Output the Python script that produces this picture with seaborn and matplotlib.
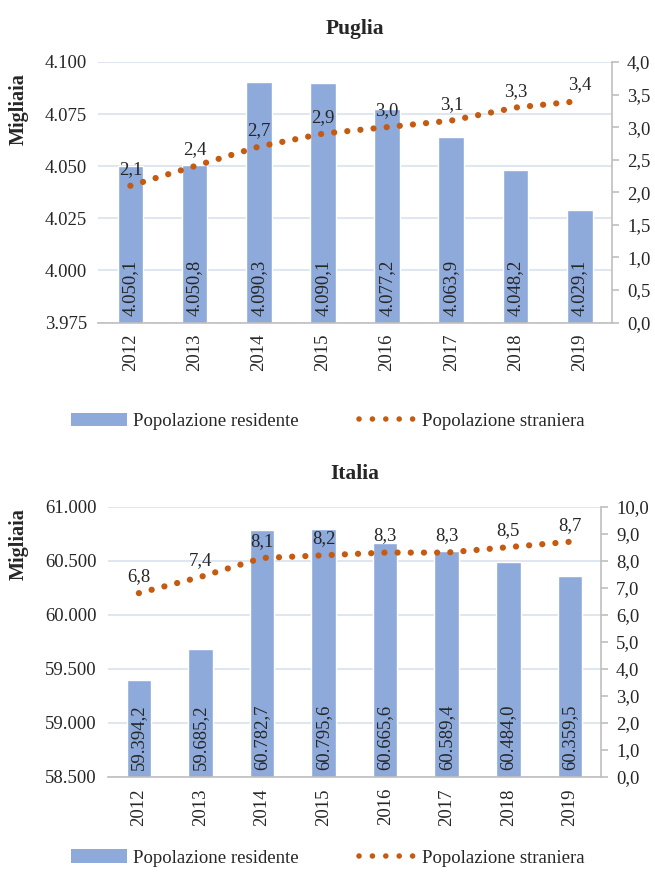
import numpy as np
import pandas as pd
import matplotlib
matplotlib.use("Agg")
import matplotlib.pyplot as plt
from matplotlib.ticker import FuncFormatter, FixedLocator, MultipleLocator
from matplotlib.patches import Patch
from matplotlib.lines import Line2D
import seaborn as sns

# Data (population in thousands, foreign share in %)
years = ["2012", "2013", "2014", "2015", "2016", "2017", "2018", "2019"]
puglia_residenti = [4050.1, 4050.8, 4090.3, 4090.1, 4077.2, 4063.9, 4048.2, 4029.1]
puglia_stranieri = [2.1, 2.4, 2.7, 2.9, 3.0, 3.1, 3.3, 3.4]
italia_residenti = [59394.2, 59685.2, 60782.7, 60795.6, 60665.6, 60589.4, 60484.0, 60359.5]
italia_stranieri = [6.8, 7.4, 8.1, 8.2, 8.3, 8.3, 8.5, 8.7]

BAR_COLOR = "#8eaadb"
LINE_COLOR = "#c55a11"
GRID_COLOR = "#dae1ec"
SPINE_COLOR = "#bfbfbf"
TEXT_COLOR = "#262626"

sns.set_theme(style="white")
plt.rcParams["font.family"] = ["Liberation Serif", "DejaVu Serif"]
plt.rcParams["text.color"] = TEXT_COLOR
plt.rcParams["axes.labelcolor"] = TEXT_COLOR
plt.rcParams["xtick.color"] = TEXT_COLOR
plt.rcParams["ytick.color"] = TEXT_COLOR

FS = 13.5
DOTS = (0, (0.01, 2.1))
LEGEND_DOTS = (0, (0.01, 2.4))


def it_thousands(v, _=None):
    return f"{v:,.0f}".replace(",", ".")


def it_decimal(v, _=None):
    return f"{v:.1f}".replace(".", ",")


def it_label(v):
    return f"{v:,.1f}".replace(",", "X").replace(".", ",").replace("X", ".")


def draw_panel(fig, rect, title, residenti, stranieri, ylim, ystep, y2max, y2step,
               label_pad, ylabel_y):
    ax = fig.add_axes(rect)
    df = pd.DataFrame({"anno": years, "residenti": residenti,
                       "stranieri": stranieri, "pos": np.arange(len(years))})
    sns.barplot(data=df, x="anno", y="residenti", color=BAR_COLOR, width=0.4,
                saturation=1, ax=ax, zorder=2)
    ax.set_ylim(*ylim)
    ax.yaxis.set_major_locator(MultipleLocator(ystep))
    ax.yaxis.set_major_formatter(FuncFormatter(it_thousands))
    ax.grid(axis="y", color=GRID_COLOR, lw=1.2, zorder=0)
    ax.set_axisbelow(True)
    for s in ("left", "top", "right"):
        ax.spines[s].set_visible(False)
    ax.spines["bottom"].set_color(SPINE_COLOR)
    ax.spines["bottom"].set_linewidth(1.2)
    ax.tick_params(axis="y", length=0, labelsize=FS, pad=8)
    ax.tick_params(axis="x", which="major", length=0, labelsize=FS, pad=8, labelrotation=90)
    ax.xaxis.set_minor_locator(FixedLocator(np.arange(-0.5, len(years), 1.0)))
    ax.tick_params(axis="x", which="minor", length=5, color=SPINE_COLOR, width=1.2)
    ax.set_xlim(-0.5, len(years) - 0.5)
    ax.set_xlabel("")
    ax.set_ylabel("Migliaia", fontsize=FS + 1, fontweight="bold")
    # rotated axis title sits near the figure's left edge, towards the top
    ax.yaxis.set_label_coords((29 / 655 - rect[0]) / rect[2], ylabel_y)
    ax.set_title(title, fontsize=FS + 2, fontweight="bold", pad=20)

    # value labels inside the bars, rotated
    base = ylim[0] + (ylim[1] - ylim[0]) * 0.025
    for i, v in enumerate(residenti):
        ax.text(i, base, it_label(v), rotation=90, ha="center", va="bottom",
                fontsize=FS, color=TEXT_COLOR, zorder=5)

    ax2 = ax.twinx()
    sns.lineplot(data=df, x="pos", y="stranieri", ax=ax2, color=LINE_COLOR,
                 lw=4.5, ls=DOTS, dash_capstyle="round", zorder=4)
    ax2.set_ylim(0, y2max)
    ax2.yaxis.set_major_locator(MultipleLocator(y2step))
    ax2.yaxis.set_major_formatter(FuncFormatter(it_decimal))
    for s in ("left", "top", "bottom"):
        ax2.spines[s].set_visible(False)
    ax2.spines["right"].set_color(SPINE_COLOR)
    ax2.spines["right"].set_linewidth(1.2)
    ax2.tick_params(axis="y", length=5, color=SPINE_COLOR, width=1.2, labelsize=FS, pad=6)
    ax2.set_ylabel("")
    ax2.set_xlabel("")
    ax2.grid(False)
    for i, v in enumerate(stranieri):
        ax2.text(i, v + label_pad, it_decimal(v), ha="center", va="bottom",
                 fontsize=FS, color=TEXT_COLOR, zorder=6)
    return ax


fig = plt.figure(figsize=(6.55, 8.72), dpi=100)

rect_p = [0.150, 0.630, 0.784, 0.299]
rect_i = [0.165, 0.109, 0.752, 0.310]
draw_panel(fig, rect_p, "Puglia", puglia_residenti, puglia_stranieri,
           (3975, 4100), 25, 4.0, 0.5, 0.12, 0.82)
draw_panel(fig, rect_i, "Italia", italia_residenti, italia_stranieri,
           (58500, 61000), 500, 10.0, 1.0, 0.3, 0.86)

handles = [Patch(facecolor=BAR_COLOR, edgecolor="none"),
           Line2D([0], [0], color=LINE_COLOR, lw=4, ls=LEGEND_DOTS, dash_capstyle="round")]
names = ["Popolazione residente", "Popolazione straniera"]
for y in (0.517, 0.016):
    fig.legend(handles, names, loc="center", bbox_to_anchor=(0.50, y), ncol=2,
               frameon=False, fontsize=FS, handlelength=3.0, columnspacing=3.2,
               handletextpad=0.35)

fig.savefig("out.png", dpi=100)
